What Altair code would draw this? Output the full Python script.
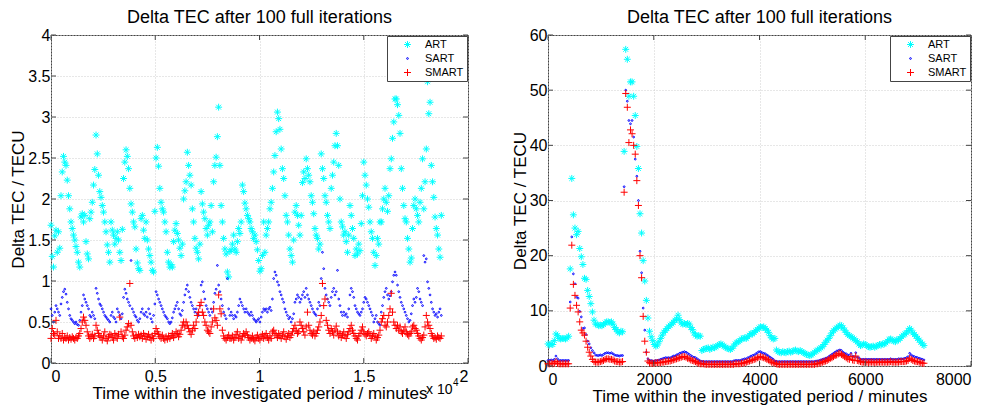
import altair as alt
import pandas as pd

# ---------------- data ----------------
series_names = ["ART", "SART", "SMART"]
series_colors = ["#00FFFF", "#0000FF", "#FF0000"]

title_text = "Delta TEC after 100 full iterations"
xlabel = "Time within the investigated period / minutes"
ylabel = "Delta TEC / TECU"

# left panel: hourly samples (minutes = 60 * index)
LEFT_STEP = 60
left_art = [
    1.68, 1.30, 1.17, 1.55, 1.62, 1.35, 1.60, 1.40, 2.04, 2.33, 2.52, 2.45,
    2.41, 2.23, 2.04, 1.88, 1.72, 1.64, 1.56, 1.50, 1.42, 1.35, 1.23, 1.17,
    1.78, 1.82, 1.72, 1.80, 1.48, 1.33, 1.27, 1.76, 1.84, 1.96, 2.17, 2.36,
    2.78, 2.55, 2.29, 2.09, 2.02, 1.92, 1.84, 1.72, 1.60, 1.44, 1.35, 1.23,
    1.72, 1.62, 1.56, 1.45, 1.52, 1.60, 1.50, 1.35, 1.25, 1.63, 2.25, 2.45,
    2.60, 2.52, 2.37, 2.13, 1.94, 1.84, 1.72, 1.66, 1.39, 1.22, 1.15, 1.13,
    1.76, 1.80, 1.62, 1.52, 1.72, 1.50, 1.39, 1.31, 1.23, 1.13, 1.11, 1.85,
    2.50, 2.63, 2.40, 2.13, 1.96, 1.88, 1.84, 1.72, 1.60, 1.35, 1.23, 1.17,
    1.20, 1.17, 1.48, 1.62, 1.70, 1.58, 1.50, 1.40, 1.31, 1.45, 2.00, 2.10,
    2.21, 2.57, 2.41, 2.29, 2.17, 1.88, 1.72, 1.52, 1.40, 1.35, 1.27, 1.45,
    2.09, 1.94, 1.84, 1.76, 1.64, 1.56, 1.68, 1.72, 1.92, 1.60, 2.21, 2.41,
    2.51, 2.76, 3.12, 2.41, 1.92, 1.72, 1.52, 1.39, 1.33, 1.11, 1.05, 1.36,
    1.38, 1.45, 1.56, 1.39, 1.35, 1.48, 1.64, 1.58, 1.72, 2.17, 2.09, 1.95,
    1.88, 1.80, 1.76, 1.72, 1.64, 1.60, 1.52, 1.56, 1.48, 1.38, 1.25, 1.12,
    1.15, 1.31, 1.72, 1.35, 1.56, 1.64, 1.72, 1.88, 1.96, 2.13, 2.33, 2.53,
    2.82, 3.06, 2.98, 2.85, 2.61, 2.37, 2.25, 2.04, 1.80, 1.72, 1.56, 1.39,
    1.31, 1.23, 1.50, 1.84, 1.92, 1.80, 1.68, 1.56, 1.80, 2.20, 2.33, 2.25,
    2.49, 2.37, 2.29, 2.21, 2.04, 1.96, 1.82, 1.64, 1.56, 1.52, 1.39, 1.45,
    2.55, 2.37, 2.25, 2.04, 1.96, 1.80, 1.72, 1.64, 2.13, 2.29, 2.45, 2.65,
    2.80, 2.65, 2.41, 2.00, 1.72, 1.66, 1.56, 1.60, 1.48, 1.35, 1.56, 1.92,
    1.80, 1.64, 1.52, 1.31, 1.39, 1.33, 1.45, 1.37, 1.70, 2.04, 2.45, 2.29,
    2.17, 2.00, 1.90, 1.72, 1.60, 1.52, 1.35, 1.19, 1.31, 1.52, 1.45, 1.72,
    1.72, 1.88, 2.00, 2.13, 1.96, 1.85, 2.04, 2.37, 2.49, 2.74, 2.94, 3.22,
    3.22, 3.15, 3.02, 2.80, 2.37, 2.13, 1.92, 1.76, 1.72, 1.52, 1.39, 1.23,
    1.28, 1.64, 1.92, 2.00, 1.88, 1.80, 1.72, 1.96, 2.13, 2.49, 1.88, 2.21,
    2.61, 3.43, 3.04, 3.18, 2.41, 2.21, 2.02, 1.78, 1.64, 1.56, 1.39, 1.29, 1.80,
]
left_sart = [
    0.66, 0.58, 0.50, 0.62, 0.70, 0.66, 0.62, 0.58, 0.72, 0.80, 0.87, 0.90,
    0.84, 0.74, 0.66, 0.58, 0.54, 0.52, 0.50, 0.48, 0.50, 0.47, 0.46, 0.52,
    0.62, 0.70, 0.83, 0.78, 0.74, 0.70, 0.66, 0.58, 0.56, 0.62, 0.58, 0.54,
    0.91, 0.85, 0.78, 0.72, 0.70, 0.66, 0.62, 0.58, 0.56, 0.54, 0.52, 0.50,
    0.58, 0.62, 0.56, 0.54, 0.50, 0.66, 0.62, 0.58, 0.54, 0.60, 0.80, 0.90,
    0.85, 0.78, 0.74, 0.70, 1.25, 0.66, 0.62, 0.58, 0.56, 0.52, 0.50, 0.54,
    0.62, 0.66, 0.60, 0.58, 0.62, 0.56, 0.66, 0.60, 0.54, 0.50, 0.58, 0.72,
    0.87, 0.83, 0.78, 0.74, 0.70, 0.66, 0.62, 0.58, 0.56, 0.54, 0.50, 0.48,
    0.50, 0.55, 0.62, 0.66, 0.70, 0.74, 0.66, 0.60, 0.58, 0.64, 0.74, 0.83,
    0.90, 0.95, 0.87, 0.80, 0.74, 0.70, 0.66, 0.62, 0.66, 0.60, 0.58, 0.70,
    0.95, 0.99, 0.87, 0.78, 0.70, 0.66, 0.62, 0.58, 0.66, 0.62, 0.74, 0.85,
    0.90, 1.19, 0.95, 0.87, 0.78, 0.70, 0.62, 0.58, 0.54, 1.03, 0.66, 0.58,
    0.62, 0.58, 0.54, 0.58, 0.56, 0.62, 0.70, 0.78, 0.74, 0.70, 0.66, 0.62,
    0.66, 0.62, 0.60, 0.58, 0.62, 0.58, 0.54, 0.52, 0.50, 0.52, 0.54, 0.50,
    0.56, 0.62, 0.66, 0.64, 0.66, 0.62, 0.66, 0.68, 0.64, 0.78, 1.03, 1.11,
    1.07, 0.99, 0.95, 0.87, 0.83, 0.78, 0.74, 0.66, 0.62, 0.58, 0.54, 0.56,
    0.50, 0.54, 0.60, 0.74, 0.78, 0.83, 0.80, 0.74, 0.78, 0.83, 0.87, 0.80,
    0.91, 0.83, 0.78, 0.74, 0.70, 0.66, 0.62, 0.60, 0.58, 0.66, 0.74, 0.70,
    1.03, 1.35, 1.15, 0.91, 0.83, 0.78, 0.74, 0.70, 0.80, 0.87, 0.91, 0.83,
    0.87, 1.13, 0.78, 0.70, 0.62, 0.58, 0.62, 0.58, 0.60, 0.56, 0.66, 0.83,
    0.91, 0.87, 0.80, 0.70, 0.66, 0.62, 0.60, 0.58, 0.62, 0.66, 0.74, 0.80,
    0.78, 0.74, 0.70, 0.66, 0.62, 0.58, 0.50, 0.54, 0.58, 0.50, 0.48, 0.46,
    0.62, 0.70, 0.80, 0.87, 0.91, 0.83, 0.78, 0.82, 0.87, 0.99, 1.07, 1.11,
    1.07, 0.95, 0.87, 0.80, 0.74, 0.70, 0.66, 0.62, 0.58, 0.54, 0.50, 0.52,
    0.60, 0.70, 0.78, 0.74, 0.80, 0.91, 0.87, 0.78, 0.74, 0.70, 1.31, 1.23,
    1.27, 0.99, 0.91, 0.83, 0.74, 0.66, 0.62, 0.58, 0.60, 0.56, 0.62, 0.66, 0.58,
]
left_smart = [
    0.30, 0.42, 0.36, 0.34, 0.52, 0.38, 0.30, 0.33, 0.30, 0.36, 0.28, 0.31,
    0.30, 0.33, 0.28, 0.31, 0.29, 0.32, 0.30, 0.28, 0.31, 0.30, 0.33, 0.36,
    0.42, 0.50, 0.56, 0.52, 0.46, 0.38, 0.33, 0.30, 0.32, 0.35, 0.30, 0.33,
    0.46, 0.40, 0.36, 0.33, 0.31, 0.28, 0.33, 0.38, 0.30, 0.27, 0.32, 0.35,
    0.34, 0.31, 0.28, 0.36, 0.33, 0.30, 0.35, 0.56, 0.38, 0.32, 0.30, 0.34,
    0.40, 0.44, 0.48, 0.97, 0.46, 0.38, 0.33, 0.30, 0.34, 0.31, 0.35, 0.32,
    0.34, 0.30, 0.36, 0.33, 0.29, 0.32, 0.35, 0.31, 0.28, 0.33, 0.30, 0.36,
    0.42, 0.38, 0.35, 0.32, 0.30, 0.34, 0.30, 0.28, 0.32, 0.29, 0.33, 0.30,
    0.33, 0.36, 0.31, 0.34, 0.38, 0.36, 0.32, 0.35, 0.40, 0.46, 0.50, 0.44,
    0.50, 0.46, 0.42, 0.38, 0.35, 0.40, 0.46, 0.42, 0.50, 0.58, 0.62, 0.70,
    0.74, 0.62, 0.58, 0.50, 0.46, 0.40, 0.38, 0.36, 0.44, 0.50, 0.66, 0.55,
    0.52, 0.46, 0.83, 0.66, 0.60, 0.40, 0.33, 0.30, 0.28, 0.31, 0.34, 0.30,
    0.30, 0.33, 0.28, 0.31, 0.35, 0.38, 0.30, 0.33, 0.28, 0.32, 0.36, 0.34,
    0.38, 0.34, 0.31, 0.28, 0.30, 0.33, 0.29, 0.27, 0.31, 0.34, 0.30, 0.28,
    0.32, 0.35, 0.30, 0.33, 0.36, 0.31, 0.28, 0.33, 0.30, 0.38, 0.40, 0.36,
    0.34, 0.31, 0.36, 0.33, 0.30, 0.34, 0.38, 0.32, 0.29, 0.33, 0.36, 0.31,
    0.34, 0.38, 0.42, 0.46, 0.40, 0.36, 0.38, 0.50, 0.46, 0.42, 0.38, 0.34,
    0.44, 0.62, 0.46, 0.40, 0.36, 0.34, 0.38, 0.33, 0.36, 0.40, 0.44, 0.50,
    0.58, 0.97, 0.70, 0.78, 0.52, 0.46, 0.40, 0.36, 0.42, 0.38, 0.34, 0.40,
    0.45, 0.38, 0.33, 0.36, 0.31, 0.34, 0.38, 0.33, 0.30, 0.35, 0.38, 0.42,
    0.46, 0.40, 0.36, 0.33, 0.30, 0.28, 0.33, 0.36, 0.40, 0.44, 0.38, 0.35,
    0.33, 0.36, 0.38, 0.34, 0.30, 0.33, 0.36, 0.32, 0.28, 0.31, 0.34, 0.40,
    0.50, 0.54, 0.58, 0.46, 0.44, 0.50, 0.58, 0.66, 0.85, 0.62, 0.50, 0.46,
    0.42, 0.46, 0.40, 0.44, 0.38, 0.36, 0.40, 0.44, 0.38, 0.35, 0.33, 0.36,
    0.38, 0.44, 0.46, 0.42, 0.40, 0.36, 0.33, 0.30, 0.28, 0.31, 0.34, 0.44,
    0.58, 0.50, 0.46, 0.42, 0.36, 0.33, 0.30, 0.31, 0.29, 0.33, 0.31, 0.30, 0.33,
]

# right panel: 30-minute samples (minutes = 30 * index)
RIGHT_STEP = 30
right_art = [
    4.0, 3.8, 4.0, 3.9, 4.6, 5.8, 5.5, 5.0, 4.9, 5.0,
    5.0, 4.9, 5.1, 5.4, 17.6, 34.0, 27.4, 25.0, 23.8, 24.4,
    21.3, 19.8, 18.4, 15.9, 15.7, 13.7, 12.6, 11.3, 9.8, 8.3,
    7.6, 7.5, 7.3, 7.4, 7.3, 7.5, 7.8, 8.0, 8.0, 7.9,
    8.0, 7.6, 7.0, 6.6, 6.2, 6.0, 6.3, 6.2, 38.9, 57.4,
    55.6, 48.9, 51.5, 51.5, 48.9, 45.4, 39.8, 35.8, 27.6, 24.1,
    19.1, 15.4, 11.9, 8.7, 6.3, 5.3, 4.6, 3.9, 3.6, 3.8,
    4.4, 5.0, 5.6, 6.1, 6.4, 6.8, 7.1, 7.4, 7.6, 7.9,
    8.3, 8.5, 9.2, 8.4, 7.8, 7.6, 7.7, 7.5, 7.7, 7.6,
    7.0, 6.6, 6.0, 5.6, 5.4, 5.5, 5.4, 2.8, 3.0, 3.1,
    3.2, 3.3, 3.0, 3.2, 3.4, 3.3, 3.5, 3.7, 3.9, 4.0,
    3.8, 3.6, 3.4, 3.2, 3.1, 3.0, 3.2, 3.6, 4.0, 4.3,
    4.4, 4.6, 4.9, 5.0, 5.1, 5.0, 5.3, 5.6, 5.9, 5.8,
    6.1, 6.4, 6.6, 6.9, 7.1, 7.0, 7.1, 6.8, 6.5, 6.1,
    5.5, 5.1, 4.9, 5.0, 2.9, 2.6, 2.5, 2.4, 2.6, 2.5,
    2.4, 2.6, 2.7, 2.5, 2.6, 2.8, 2.9, 2.7, 2.6, 2.8,
    2.6, 2.4, 2.3, 2.1, 2.0, 1.9, 2.0, 2.2, 2.5, 2.7,
    2.9, 3.1, 3.3, 3.5, 3.9, 4.3, 4.7, 5.0, 5.5, 6.0,
    6.4, 6.7, 6.9, 7.1, 7.4, 7.3, 6.9, 6.5, 6.1, 5.7,
    5.5, 5.3, 5.1, 4.9, 4.6, 4.4, 4.0, 3.7, 3.8, 4.0,
    3.9, 3.7, 3.5, 3.4, 3.5, 3.6, 3.4, 3.6, 3.7, 3.9,
    3.8, 4.0, 4.0, 4.2, 4.5, 4.8, 4.9, 4.7, 4.5, 4.4,
    4.8, 4.7, 5.0, 5.3, 5.6, 5.8, 6.0, 6.4, 6.8, 6.5,
    6.0, 5.7, 5.4, 5.0, 4.7, 4.3, 4.0, 3.7,
]
right_sart = [
    1.0, 1.0, 1.1, 1.0, 1.2, 1.8, 1.3, 1.0, 1.0, 1.0,
    1.0, 1.0, 1.0, 1.0, 11.6, 23.4, 16.7, 14.9, 12.5, 12.3,
    9.9, 8.9, 6.8, 6.9, 5.7, 4.5, 4.0, 3.3, 2.8, 2.4,
    2.0, 1.9, 1.9, 2.0, 1.9, 2.1, 2.3, 2.4, 2.4, 2.3,
    2.4, 2.2, 2.0, 1.9, 1.9, 1.8, 1.9, 1.9, 32.5, 50.0,
    48.0, 44.5, 43.9, 44.5, 41.5, 37.5, 34.4, 30.0, 20.8, 16.9,
    10.5, 6.5, 2.5, 1.3, 1.0, 1.0, 0.9, 0.9, 1.0, 1.0,
    1.1, 1.2, 1.3, 1.4, 1.5, 1.5, 1.5, 1.5, 1.6, 1.8,
    1.8, 2.0, 2.1, 2.3, 2.4, 2.5, 2.6, 2.5, 2.3, 2.1,
    1.9, 1.7, 1.6, 1.5, 1.3, 1.1, 0.9, 0.85, 0.8, 0.8,
    0.8, 0.8, 0.8, 0.8, 0.8, 0.8, 0.8, 0.8, 0.8, 0.8,
    0.8, 0.8, 0.8, 0.8, 0.8, 0.8, 0.8, 0.9, 1.0, 1.0,
    1.0, 1.0, 1.1, 1.2, 1.3, 1.3, 1.5, 1.6, 1.8, 1.9,
    2.0, 2.2, 2.4, 2.6, 2.6, 2.4, 2.3, 2.2, 2.0, 1.8,
    1.6, 1.4, 1.2, 0.9, 0.85, 0.8, 0.8, 0.8, 0.8, 0.8,
    0.8, 0.8, 0.8, 0.8, 0.8, 0.8, 0.8, 0.8, 0.8, 0.8,
    0.8, 0.8, 0.8, 0.8, 0.8, 0.8, 0.8, 0.8, 0.8, 0.9,
    0.9, 1.0, 1.1, 1.2, 1.3, 1.4, 1.5, 1.7, 1.9, 2.1,
    2.3, 2.5, 2.7, 2.8, 2.9, 2.8, 2.5, 2.3, 2.2, 2.0,
    1.9, 2.3, 1.8, 1.7, 2.4, 1.6, 1.5, 1.2, 1.2, 1.2,
    1.2, 1.2, 1.2, 1.2, 1.2, 1.2, 1.2, 1.2, 1.2, 1.2,
    1.2, 1.2, 1.2, 1.2, 1.2, 1.2, 1.3, 1.2, 1.2, 1.2,
    1.2, 1.3, 1.3, 1.3, 1.3, 1.4, 1.5, 1.7, 2.3, 2.0,
    1.8, 1.7, 1.6, 1.5, 1.4, 1.3, 1.2, 1.1,
]
right_smart = [
    0.4, 0.4, 0.5, 0.4, 0.5, 0.8, 0.5, 0.4, 0.4, 0.4,
    0.4, 0.4, 0.4, 0.4, 10.5, 21.9, 14.8, 12.8, 11.0, 9.8,
    8.0, 6.5, 6.0, 5.6, 4.5, 3.4, 2.5, 1.8, 1.2, 0.8,
    0.7, 0.7, 0.7, 0.8, 0.9, 1.0, 1.2, 1.3, 1.3, 1.2,
    1.2, 1.1, 0.9, 0.8, 0.8, 0.7, 0.7, 0.8, 31.5, 49.4,
    46.9, 40.5, 42.8, 42.1, 40.0, 38.4, 33.6, 29.1, 20.0, 16.0,
    9.0, 4.5, 2.5, 0.9, 0.6, 0.5, 0.5, 0.5, 0.6, 0.6,
    0.6, 0.6, 0.7, 0.7, 0.8, 0.8, 0.9, 0.9, 1.0, 1.1,
    1.2, 1.3, 1.4, 1.5, 1.6, 1.7, 1.7, 1.6, 1.4, 1.3,
    1.1, 1.0, 0.9, 0.8, 0.6, 0.5, 0.4, 0.4, 0.4, 0.3,
    0.3, 0.3, 0.3, 0.3, 0.3, 0.3, 0.3, 0.3, 0.3, 0.3,
    0.3, 0.3, 0.3, 0.3, 0.3, 0.3, 0.3, 0.3, 0.4, 0.4,
    0.4, 0.4, 0.5, 0.5, 0.6, 0.7, 0.8, 0.9, 1.0, 1.1,
    1.2, 1.3, 1.5, 1.6, 1.7, 1.6, 1.5, 1.4, 1.2, 1.1,
    0.9, 0.7, 0.6, 0.5, 0.4, 0.3, 0.3, 0.3, 0.3, 0.3,
    0.3, 0.3, 0.3, 0.3, 0.3, 0.3, 0.3, 0.3, 0.3, 0.3,
    0.3, 0.3, 0.3, 0.3, 0.3, 0.3, 0.3, 0.3, 0.3, 0.4,
    0.4, 0.5, 0.6, 0.7, 0.8, 0.9, 1.0, 1.2, 1.4, 1.5,
    1.7, 1.9, 2.0, 2.2, 2.3, 2.1, 1.9, 1.7, 1.5, 1.3,
    1.2, 1.7, 1.1, 1.0, 1.8, 1.0, 0.9, 0.8, 0.7, 0.7,
    0.7, 0.7, 0.6, 0.7, 0.7, 0.7, 0.6, 0.7, 0.7, 0.7,
    0.7, 0.7, 0.7, 0.7, 0.7, 0.7, 0.8, 0.7, 0.7, 0.7,
    0.7, 0.7, 0.8, 0.8, 0.8, 0.8, 0.9, 1.0, 1.4, 1.2,
    1.0, 0.9, 0.8, 0.8, 0.7, 0.6, 0.5, 0.5,
]

left_xticks = [0, 5000, 10000, 15000, 20000]
left_yticks = [0, 0.5, 1, 1.5, 2, 2.5, 3, 3.5, 4]
right_xticks = [0, 2000, 4000, 6000, 8000]
right_yticks = [0, 10, 20, 30, 40, 50, 60]

# ---------------- helpers ----------------
STAR = "M-1,0L1,0M0,-1L0,1M-0.7,-0.7L0.7,0.7M-0.7,0.7L0.7,-0.7"
PLUS = "M-1,0L1,0M0,-1L0,1"
FONT = "Liberation Sans"


def long_frame(step, lists):
    rows = []
    for name, vals in zip(series_names, lists):
        for i, v in enumerate(vals):
            rows.append({"t": i * step, "v": v, "s": name})
    return pd.DataFrame(rows)


def panel(df, xdom, ydom, xticks, yticks, w, h, xlabel_expr, yfmt, extra=None):
    xs = alt.Scale(domain=xdom, nice=False, zero=False)
    ys = alt.Scale(domain=ydom, nice=False, zero=False)
    xaxis = alt.Axis(values=xticks, labelExpr=xlabel_expr, title=xlabel)
    yaxis = alt.Axis(values=yticks, format=yfmt, title=ylabel)
    leg = alt.Legend(title=None, orient="top-right", offset=1)
    pts = alt.Chart(df).mark_point(filled=False, strokeWidth=1, opacity=1).encode(
        x=alt.X("t:Q", scale=xs, axis=xaxis),
        y=alt.Y("v:Q", scale=ys, axis=yaxis),
        color=alt.Color("s:N", scale=alt.Scale(domain=series_names, range=series_colors), legend=leg),
        shape=alt.Shape("s:N", scale=alt.Scale(domain=series_names, range=[STAR, "circle", PLUS]), legend=leg),
        size=alt.Size("s:N", scale=alt.Scale(type="ordinal", domain=series_names, range=[48, 3, 49]), legend=leg),
    )
    ytd = pd.DataFrame({"v": yticks})
    xtd = pd.DataFrame({"t": xticks})
    tick_style = dict(color="#444", strokeWidth=1)
    yl = alt.Chart(ytd).mark_rule(**tick_style).encode(
        y=alt.Y("v:Q", title=ylabel), x=alt.value(0), x2=alt.value(5))
    yr = alt.Chart(ytd).mark_rule(**tick_style).encode(
        y=alt.Y("v:Q", title=ylabel), x=alt.value(w - 5), x2=alt.value(w))
    xb = alt.Chart(xtd).mark_rule(**tick_style).encode(
        x=alt.X("t:Q", title=xlabel), y=alt.value(h - 5), y2=alt.value(h))
    xt = alt.Chart(xtd).mark_rule(**tick_style).encode(
        x=alt.X("t:Q", title=xlabel), y=alt.value(0), y2=alt.value(5))
    layers = [pts, yl, yr, xb, xt]
    if extra:
        layers += extra
    return alt.layer(*layers).properties(
        width=w, height=h, title=alt.TitleParams(title_text, dy=-2)
    )


left_df = long_frame(LEFT_STEP, [left_art, left_sart, left_smart])
right_df = long_frame(RIGHT_STEP, [right_art, right_sart, right_smart])

LW, LH = 417, 328
RW, RH = 423, 331

exp_base = alt.Chart(pd.DataFrame({"txt": ["x 10"]})).mark_text(
    align="left", baseline="alphabetic", fontSize=14, font=FONT, color="black"
).encode(text="txt:N", x=alt.value(375), y=alt.value(359))
exp_pow = alt.Chart(pd.DataFrame({"txt": ["4"]})).mark_text(
    align="left", baseline="alphabetic", fontSize=10, font=FONT, color="black"
).encode(text="txt:N", x=alt.value(402), y=alt.value(351))

left = panel(left_df, [0, 20000], [0, 4], left_xticks, left_yticks, LW, LH,
             "datum.value / 10000", ".1~f", extra=[exp_base, exp_pow])
right = panel(right_df, [0, 8000], [0, 60], right_xticks, right_yticks, RW, RH,
              "format(datum.value, 'd')", "d")

chart = alt.hconcat(left, right, spacing=41).resolve_scale(
    x="independent", y="independent", color="independent",
    shape="independent", size="independent"
).resolve_legend(color="independent", shape="independent", size="independent").properties(
    padding={"left": 1, "top": 0, "right": 0, "bottom": 0}
).configure_view(
    stroke="#444", strokeWidth=1
).configure_axis(
    labelFont=FONT, titleFont=FONT, labelFontSize=16, titleFontSize=17,
    labelColor="black", titleColor="black", titleFontWeight="normal",
    grid=True, gridColor="#cfcfcf", gridDash=[1, 2], gridWidth=1,
    ticks=False, domain=False, labelPadding=4,
).configure_axisY(titlePadding=0, labelPadding=1).configure_axisX(titlePadding=1, labelPadding=5).configure_title(
    font=FONT, fontSize=18, fontWeight="normal", color="black", offset=-2, anchor="middle"
).configure_legend(
    labelFont=FONT, labelFontSize=11, labelColor="black",
    strokeColor="#444", fillColor="white", padding=3, rowPadding=2,
    symbolOffset=12, labelOffset=12, symbolStrokeWidth=1,
)

chart.save("out.html", embed_options={"renderer": "svg", "actions": False})
